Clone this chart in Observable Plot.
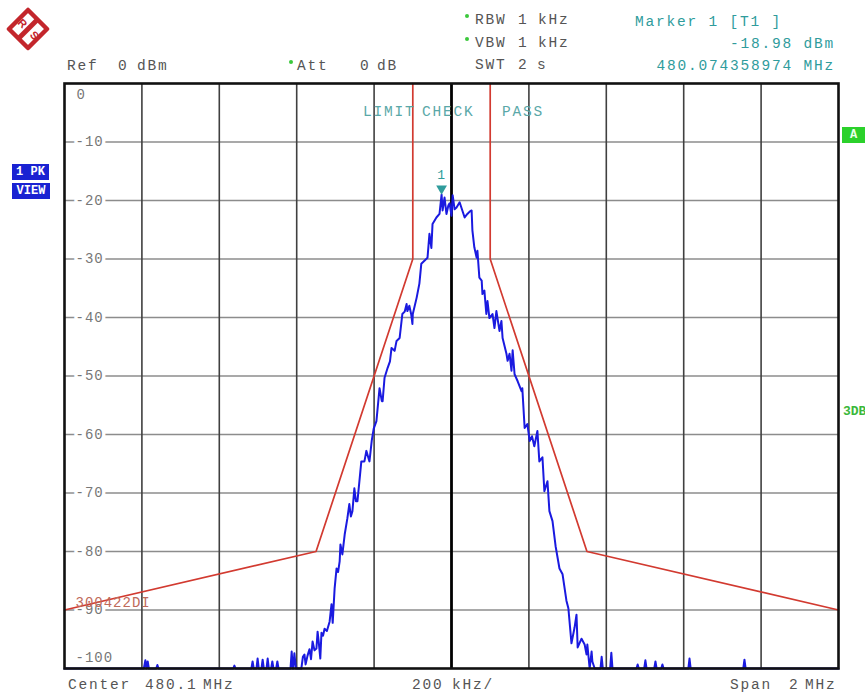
<!DOCTYPE html>
<html><head><meta charset="utf-8">
<script src="https://cdn.jsdelivr.net/npm/d3@7"></script>
<script src="https://cdn.jsdelivr.net/npm/@observablehq/plot@0.6"></script>
<style>
body{margin:0;background:#fff;}
#wrap{position:relative;width:865px;height:695px;overflow:hidden;background:#fff;}
.t{position:absolute;font-family:'Liberation Mono',monospace;font-size:14.5px;letter-spacing:1.8px;white-space:pre;line-height:16px;color:#555;}
.box{position:absolute;font-family:'Liberation Mono',monospace;font-weight:bold;font-size:12px;line-height:16px;text-align:center;color:#fff;}
</style></head><body><div id="wrap"></div>
<script>
// ---- chart data ----
const centerMHz = 480.1;
const spanMHz = 2;
const freqGridKHz = [-800, -600, -400, -200, 200, 400, 600, 800];
const centerLineKHz = [0];
const levelGridDBm = [-10, -20, -30, -40, -50, -60, -70, -80, -90];
const levelTicksDBm = [0, -10, -20, -30, -40, -50, -60, -70, -80, -90, -100];
const limitName = "300422DI";
const limitOffsetKHz = [-1000, -350, -100, -100, 100, 100, 350, 1000];
const limitDBm = [-90, -80, -30, 0, 0, -30, -80, -90];
const limitSide = ["lo", "lo", "lo", "lo", "hi", "hi", "hi", "hi"];
const markerOffsetKHz = -25.641;
const markerDBm = -18.98;
const traceOffsetKHz = [
  -1000, -795, -791, -788, -785, -782, -763, -760, -757,
  -564, -561, -558, -517, -514, -511, -504, -501, -498, -491, -488, -485,
  -478, -475, -472, -466, -463, -460, -453, -450, -447, -416, -413, -410,
  -409, -406, -402, -388, -384, -380, -377, -372, -367, -363, -359, -354,
  -349, -346, -343, -339, -336, -332, -328, -322, -315, -310, -307, -302,
  -297, -293, -289, -287, -282, -276, -269, -264, -260, -256, -251, -247,
  -243, -238, -233, -225, -220, -212, -206, -201, -194, -186, -180, -178,
  -173, -165, -159, -155, -147, -142, -134, -127, -121, -116, -114, -109,
  -104, -101, -100, -90, -83, -78, -70, -62, -57, -52, -49, -39, -31,
  -25.641, -23, -18, -13, -8, -5, 0, 3, 8, 13, 21, 28, 34, 41, 47, 52,
  54, 59, 65, 67, 72, 78, 80, 85, 90, 93, 98, 106, 111, 116, 124, 129,
  132, 142, 145, 150, 155, 158, 163, 171, 181, 183, 189, 196, 202, 208,
  214, 222, 227, 235, 240, 248, 253, 261, 269, 279, 287, 297, 302, 310,
  318, 323, 326, 336, 344, 349, 351, 357, 362, 364, 370, 385, 388, 391,
  410, 413, 416, 478, 481, 484, 498, 501, 504, 524, 527, 530, 542, 545,
  548, 612, 615, 618, 754, 757, 760, 1000
];
const traceDBm = [
  -100, -100, -98.6, -100, -98.8, -100, -100, -99.4, -100,
  -100, -99.5, -100, -100, -98.8, -100, -100, -98.3, -100, -100, -98.5, -100,
  -100, -98.3, -100, -100, -98.8, -100, -100, -98.8, -100, -100, -97.1, -100,
  -100, -97.4, -100, -100, -98.0, -97.6, -99.3, -97.8, -96.7, -98.4, -95.4, -96.9,
  -96.6, -93.7, -95.5, -98.3, -93.9, -94.4, -93.2, -93.6, -92.0, -89.0, -92.2, -86.3,
  -82.9, -83.5, -81.7, -78.8, -80.5, -77.1, -74.3, -71.9, -74.0, -73.1, -69.2, -71.4,
  -71.4, -68.0, -64.6, -64.6, -62.8, -64.6, -61.0, -59.0, -57.7, -52.1, -54.3, -54.3,
  -50.3, -48.6, -47.5, -45.2, -45.7, -44.0, -43.5, -39.4, -39.0, -37.7, -38.9, -38.0,
  -39.5, -41.1, -39.4, -36.6, -34.2, -30.8, -30.3, -29.8, -25.7, -28.1, -24.0, -22.9, -22.3,
  -18.98, -21.7, -19.5, -22.3, -20.8, -20.5, -22.6, -19.1, -21.5, -21.2, -20.3, -21.7, -22.9, -22.3, -21.9, -21.7,
  -25.1, -28.0, -29.8, -28.6, -33.2, -33.7, -36.0, -35.4, -39.4, -37.2, -40.1, -39.4, -41.8, -38.9, -42.3, -40.6,
  -43.5, -46.2, -47.4, -46.2, -49.1, -45.6, -49.7, -50.9, -52.6, -52.1, -58.9, -58.2, -61.1, -60.3,
  -62.0, -59.4, -64.6, -63.9, -69.7, -68.0, -73.1, -74.8, -79.1, -82.9, -83.9, -88.4, -89.7, -95.7,
  -93.0, -90.8, -96.4, -94.9, -95.9, -97.6, -95.9, -100, -97.1, -98.8, -100, -100, -98.0, -100,
  -100, -97.3, -100, -100, -99.3, -100, -100, -98.6, -100, -100, -98.8, -100, -100, -99.3,
  -100, -100, -98.3, -100, -100, -98.5, -100, -100
];

// ---- build tables ----
const trace = traceOffsetKHz.map((f, i) => ({f, db: traceDBm[i]}));
const limit = limitOffsetKHz.map((f, i) => ({f, db: limitDBm[i], side: limitSide[i]}));
const marker = [{f: markerOffsetKHz, db: markerDBm}];
const FONT = "Liberation Mono, monospace";
const TEAL = "#2f9c9c";

const chart = Plot.plot({
  width: 865, height: 695,
  marginLeft: 64, marginRight: 27, marginTop: 83, marginBottom: 27,
  x: {domain: [-spanMHz * 500, spanMHz * 500], axis: null},
  y: {domain: [-100, 0], axis: null},
  style: {position: "absolute", left: "0px", top: "0px", background: "transparent", fontFamily: FONT, letterSpacing: "1px"},
  marks: [
    Plot.ruleY(levelGridDBm, {y: d => d, stroke: "#8c8c8c", strokeWidth: 1.6}),
    Plot.ruleX(freqGridKHz, {x: d => d, stroke: "#404040", strokeWidth: 1.6}),
    Plot.ruleX(centerLineKHz, {x: d => d, stroke: "#000", strokeWidth: 2.8}),
    Plot.text(levelTicksDBm.filter(d => d < 0 && d > -100), {y: d => d, text: d => String(d), frameAnchor: "left", dx: 11, textAnchor: "start", fill: "#777", stroke: "white", strokeWidth: 7, fontSize: 14}),
    Plot.text(levelTicksDBm.filter(d => d === 0), {y: d => d, text: d => String(d), frameAnchor: "left", dx: 12, dy: 11, textAnchor: "start", fill: "#777", fontSize: 14}),
    Plot.text(levelTicksDBm.filter(d => d === -100), {y: d => d, text: d => String(d), frameAnchor: "left", dx: 11, dy: -11, textAnchor: "start", fill: "#777", fontSize: 14}),
    Plot.line(limit, {x: "f", y: "db", z: "side", stroke: "#d23a30", strokeWidth: 1.7}),
    Plot.text([limitName], {x: () => -1000, y: () => -90, text: d => d, dx: 11, dy: -7, textAnchor: "start", fill: "#c06a5a", fontSize: 14}),
    Plot.line(trace, {x: "f", y: "db", stroke: "#1a1ae0", strokeWidth: 2, curve: "linear"}),
    Plot.frame({stroke: "#111", strokeWidth: 2.6}),
    Plot.dot(marker, {x: "f", y: "db", symbol: "triangle", rotate: 180, r: 4, fill: TEAL, dy: -6}),
    Plot.text(marker, {x: "f", y: "db", text: () => "1", dy: -20, fill: TEAL, fontSize: 13})
  ]
});
const wrap = document.getElementById("wrap");
wrap.appendChild(chart);

// ---- header / footer texts ----
const labels = [
  ["Ref", 67, 66, "#555"], ["0", 118, 66, "#555"], ["dBm", 137, 66, "#555"],
  ["Att", 297, 66, "#555"], ["0", 360, 66, "#555"], ["dB", 377, 66, "#555"],
  ["RBW", 475, 20, "#555"], ["1", 518, 20, "#555"], ["kHz", 538, 20, "#555"],
  ["VBW", 475, 43, "#555"], ["1", 518, 43, "#555"], ["kHz", 538, 43, "#555"],
  ["SWT", 475, 65, "#555"], ["2", 518, 65, "#555"], ["s", 537, 65, "#555"],
  ["Marker 1 [T1 ]", 635, 22, TEAL],
  ["LIMIT", 363, 112, "#5aa8a8"], ["CHECK", 422, 112, "#5aa8a8"], ["PASS", 502, 112, "#5aa8a8"],
  ["Center", 68, 685, "#555"], ["480.1", 145, 685, "#555"], ["MHz", 203, 685, "#555"],
  ["200", 412, 685, "#555"], ["kHz/", 452, 685, "#555"],
  ["Span", 730, 685, "#555"], ["2", 789, 685, "#555"], ["MHz", 805, 685, "#555"]
];
const rightLabels = [
  [markerDBm.toFixed(2) + " dBm", 833, 44, TEAL],
  ["480.074358974 MHz", 833, 66, TEAL]
];
for (const [txt, x, y, c] of labels) {
  const d = document.createElement("div");
  d.className = "t"; d.textContent = txt;
  d.style.left = x + "px"; d.style.top = (y - 8) + "px"; d.style.color = c;
  wrap.appendChild(d);
}
for (const [txt, x, y, c] of rightLabels) {
  const d = document.createElement("div");
  d.className = "t"; d.textContent = txt;
  d.style.right = (865 - x - 2) + "px"; d.style.top = (y - 8) + "px"; d.style.color = c;
  wrap.appendChild(d);
}
// green dots
for (const [x, y] of [[291, 62], [467, 16], [467, 39]]) {
  const d = document.createElement("div");
  d.style.cssText = `position:absolute;left:${x - 2}px;top:${y - 2}px;width:4px;height:4px;border-radius:2px;background:#3cc83c;`;
  wrap.appendChild(d);
}
// boxes
const boxes = [["1 PK", 12, 164, 37, "#1a22d2", "#fff"], ["VIEW", 12, 183, 38, "#1a22d2", "#fff"], ["A", 842, 127, 30, "#2bd12b", "#eaffea"]];
for (const [txt, x, y, w, bg, c] of boxes) {
  const d = document.createElement("div");
  d.className = "box"; d.textContent = txt;
  d.style.cssText += `left:${x}px;top:${y}px;width:${w}px;height:16px;background:${bg};color:${c};`;
  if (txt === "A") { d.style.textAlign = "left"; d.style.paddingLeft = "8px"; d.style.width = (w - 8) + "px"; }
  wrap.appendChild(d);
}
const db3 = document.createElement("div");
db3.className = "t"; db3.textContent = "3DB";
db3.style.cssText += "left:843px;top:404px;color:#3ab83a;font-weight:bold;font-size:13px;letter-spacing:0px;";
wrap.appendChild(db3);
// logo
const logo = document.createElementNS("http://www.w3.org/2000/svg", "svg");
logo.setAttribute("width", "44"); logo.setAttribute("height", "44");
logo.style.cssText = "position:absolute;left:6px;top:7px;";
logo.innerHTML = `<polygon points="22,3 41,22 22,41 3,22" fill="#fff" stroke="#c3262c" stroke-width="4.5" stroke-linejoin="round"/>
<line x1="31.5" y1="12.5" x2="12.5" y2="31.5" stroke="#c3262c" stroke-width="5"/>
<text x="16" y="20" font-family="Liberation Sans" font-size="11" font-weight="bold" fill="#c3262c" transform="rotate(45 16 17)" text-anchor="middle">R</text>
<text x="28" y="32" font-family="Liberation Sans" font-size="11" font-weight="bold" fill="#c3262c" transform="rotate(45 28 29)" text-anchor="middle">S</text>`;
wrap.appendChild(logo);
</script></body></html>
